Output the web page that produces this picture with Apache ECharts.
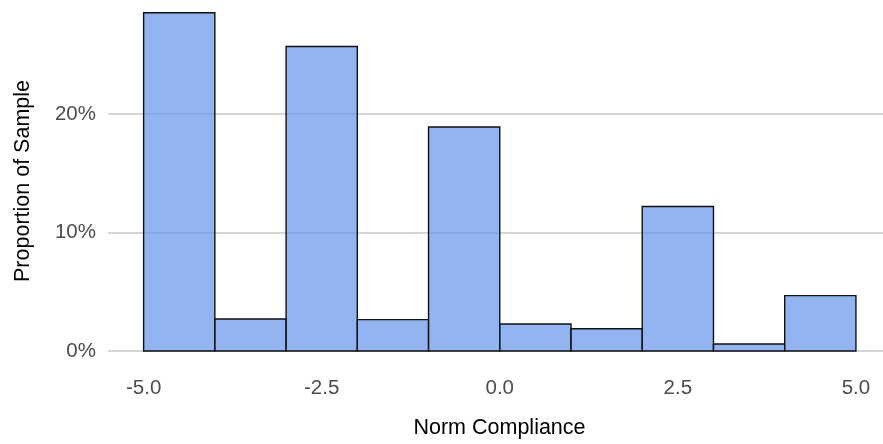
<!DOCTYPE html>
<html><head><meta charset="utf-8">
<script src="https://cdn.jsdelivr.net/npm/echarts@6/dist/echarts.min.js"></script>
<style>html,body{margin:0;padding:0;background:#fff}#c{width:883px;height:444px}</style>
</head><body><div id="c"></div>
<script>
const binStarts = [-5, -4, -3, -2, -1, 0, 1, 2, 3, 4];
const binEnds   = [-4, -3, -2, -1, 0, 1, 2, 3, 4, 5];
const proportions = [28.55, 2.7, 25.7, 2.65, 18.9, 2.28, 1.88, 12.2, 0.59, 4.67];
const xTicks = [-5, -2.5, 0, 2.5, 5];
const yTicks = [0, 10, 20];

const data = binStarts.map((s, i) => [s, binEnds[i], proportions[i]]);
const chart = echarts.init(document.getElementById('c'), null, {renderer: 'canvas'});
const FONT = 'Liberation Sans, Arial, sans-serif';
chart.setOption({
  animation: false,
  backgroundColor: '#fff',
  grid: {left: 108, right: 0, top: 0, bottom: 93, containLabel: false},
  xAxis: {
    type: 'value', min: -5.5, max: 5.38,
    axisLine: {show: false}, axisTick: {show: false}, splitLine: {show: false},
    axisLabel: {customValues: xTicks, formatter: v => v.toFixed(1), color: '#4d4d4d',
      fontSize: 20.5, fontFamily: FONT, margin: 27}
  },
  yAxis: {
    type: 'value', min: 0, max: 29.62, interval: 10,
    axisLine: {show: false}, axisTick: {show: false},
    splitLine: {show: true, showMaxLine: false, lineStyle: {color: '#c8c8c8', width: 1.5}},
    axisLabel: {customValues: yTicks, formatter: v => v + '%', color: '#4d4d4d',
      fontSize: 20.5, fontFamily: FONT, margin: 12}
  },
  graphic: [
    {type: 'text', x: 499.5, y: 428,
      style: {text: 'Norm Compliance', fontSize: 21.5, fill: '#000', align: 'center',
        verticalAlign: 'middle', fontFamily: FONT}},
    {type: 'text', x: 23, y: 181, rotation: Math.PI / 2,
      style: {text: 'Proportion of Sample', fontSize: 21.5, fill: '#000', align: 'center',
        verticalAlign: 'middle', fontFamily: FONT}}
  ],
  series: [{
    type: 'custom',
    data: data,
    encode: {x: [0, 1], y: 2},
    renderItem: function (params, api) {
      const p0 = api.coord([api.value(0), 0]);
      const p1 = api.coord([api.value(1), api.value(2)]);
      return {
        type: 'rect',
        shape: {x: p0[0], y: p1[1], width: p1[0] - p0[0], height: p0[1] - p1[1]},
        style: {fill: 'rgba(100,149,237,0.7)', stroke: '#111111', lineWidth: 1.4}
      };
    }
  }]
});
</script></body></html>
